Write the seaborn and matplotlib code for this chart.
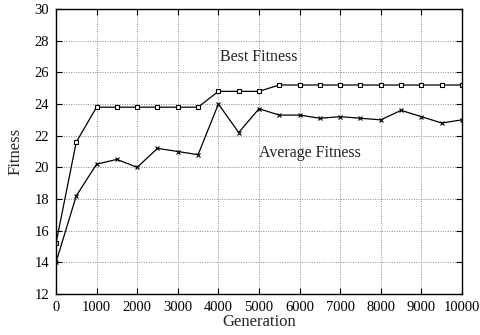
import numpy as np
import pandas as pd
import matplotlib
matplotlib.use("Agg")
import matplotlib.pyplot as plt
import seaborn as sns

generations = list(range(0, 10001, 500))
best_fitness = [15.2, 21.6, 23.8, 23.8, 23.8, 23.8, 23.8, 23.8, 24.8, 24.8, 24.8,
                25.2, 25.2, 25.2, 25.2, 25.2, 25.2, 25.2, 25.2, 25.2, 25.2]
avg_fitness = [14.0, 18.2, 20.2, 20.5, 20.0, 21.2, 21.0, 20.8, 24.0, 22.2, 23.7,
               23.3, 23.3, 23.1, 23.2, 23.1, 23.0, 23.6, 23.2, 22.8, 23.0]

df = pd.DataFrame({"Generation": generations,
                   "Best Fitness": best_fitness,
                   "Average Fitness": avg_fitness})

sns.set_style("ticks")
plt.rcParams['font.family'] = ['Liberation Serif', 'DejaVu Serif']
plt.rcParams['font.size'] = 10.5

fig = plt.figure(figsize=(4.81, 3.35), dpi=100)
ax = fig.add_axes([0.1164, 0.1224, 0.9605 - 0.1164, 0.9731 - 0.1224])

# both curves in black, told apart by marker
sns.lineplot(data=df, x="Generation", y="Best Fitness", ax=ax, color='black',
             linewidth=0.9, marker='s', markersize=3.3, markerfacecolor='white',
             markeredgecolor='black', markeredgewidth=0.8)
sns.lineplot(data=df, x="Generation", y="Average Fitness", ax=ax, color='black',
             linewidth=0.9, marker='x', markersize=3.3, markeredgecolor='black',
             markeredgewidth=0.8)

ax.set_xlim(0, 10000)
ax.set_ylim(12, 30)
ax.set_xticks(range(0, 10001, 1000))
ax.set_yticks(range(12, 31, 2))
ax.grid(True, color='#888888', linestyle=(0, (1, 1.5)), linewidth=0.7)
ax.tick_params(direction='in', length=4, width=0.8, top=True, right=True,
               labelsize=10.5, colors='black', pad=5)
for s in ax.spines.values():
    s.set_linewidth(1.0)
    s.set_color('black')

ax.set_xlabel("Generation", fontsize=12, labelpad=0)
ax.set_ylabel("Fitness", fontsize=12, labelpad=8)

ax.text(4040, 27.0, "Best Fitness", fontsize=11.5, ha='left', va='center')
ax.text(5000, 20.9, "Average Fitness", fontsize=11.5, ha='left', va='center')

fig.savefig("out.png", dpi=100)
